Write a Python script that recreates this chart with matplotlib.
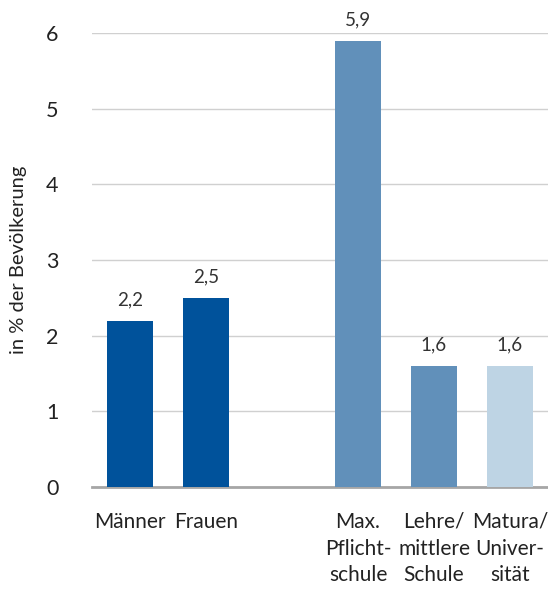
import matplotlib
matplotlib.use('Agg')
import matplotlib.pyplot as plt

# Data
categories = ['Männer', 'Frauen', 'Max.\nPflicht-\nschule', 'Lehre/\nmittlere\nSchule', 'Matura/\nUniver-\nsität']
values = [2.2, 2.5, 5.9, 1.6, 1.6]
positions = [0, 1, 3, 4, 5]
colors = ['#00529B', '#00529B', '#6190BA', '#6190BA', '#BED4E4']
value_labels = ['2,2', '2,5', '5,9', '1,6', '1,6']

plt.rcParams['font.family'] = ['Lato', 'DejaVu Sans']

fig = plt.figure(figsize=(5.48, 5.9), dpi=100)
ax = fig.add_axes([92 / 548, 1 - 487 / 590, 456 / 548, (487 - 33) / 590])

bars = ax.bar(positions, values, width=0.6, color=colors, zorder=3)

for pos, val, lab in zip(positions, values, value_labels):
    ax.annotate(lab, xy=(pos, val), xytext=(0, 9), textcoords='offset points',
                ha='center', va='bottom', fontsize=13.5, color='#333333')

ax.set_xlim(-0.5, 5.5)
ax.set_ylim(0, 6)
ax.set_yticks(range(0, 7))
ax.set_xticks(positions)
ax.set_xticklabels(categories, fontsize=15, color='#222222', va='top', linespacing=1.42)
ax.tick_params(axis='x', length=0, pad=18)
ax.tick_params(axis='y', length=0, pad=24, labelsize=15.5, labelcolor='#222222')

ax.yaxis.grid(True, color='#D0D0D0', linewidth=1, zorder=0)
for s in ['top', 'right', 'left']:
    ax.spines[s].set_visible(False)
ax.spines['bottom'].set_color('#A6A6A6')
ax.spines['bottom'].set_linewidth(2)

ax.set_ylabel('in % der Bevölkerung', fontsize=14.5, color='#222222', labelpad=14)

plt.savefig('out.png', dpi=100)
plt.close()
